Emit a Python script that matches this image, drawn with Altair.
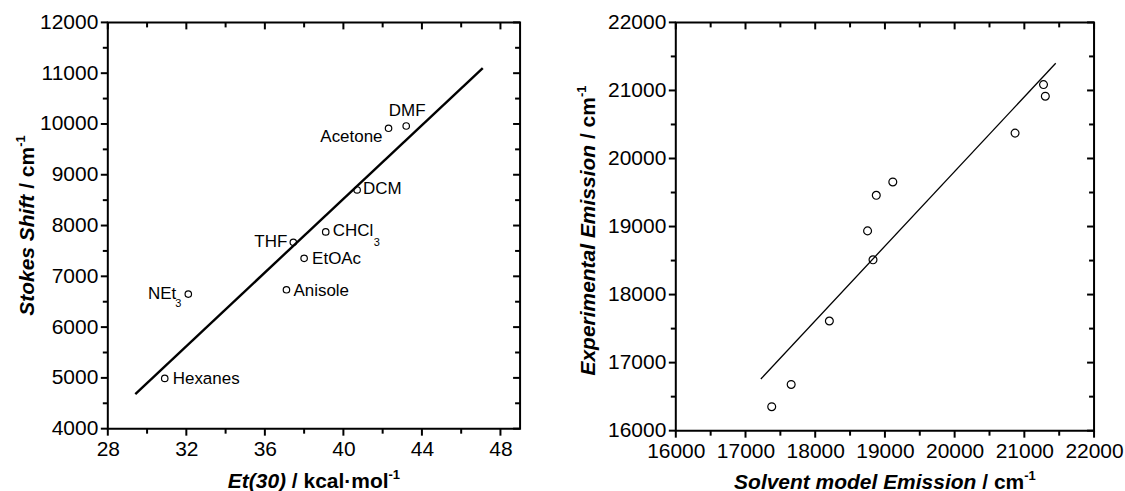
import altair as alt
import pandas as pd

FONT = "Liberation Sans"

# ---- Left panel: Stokes shift vs. Et(30) solvent polarity ----
solvent_names = ["Hexanes", "NEt3", "Anisole", "THF", "EtOAc", "CHCl3", "DCM", "Acetone", "DMF"]
label_main = ["Hexanes", "NEt", "Anisole", "THF", "EtOAc", "CHCl", "DCM", "Acetone", "DMF"]
label_sub = ["", "3", "", "", "", "3", "", "", ""]
et30_values = [30.9, 32.1, 37.1, 37.45, 38.0, 39.1, 40.7, 42.3, 43.2]
stokes_shift = [4990, 6650, 6735, 7670, 7355, 7875, 8700, 9915, 9960]
fit_et30 = [29.4, 47.1]
fit_stokes = [4680, 11100]
et30_major = [28, 32, 36, 40, 44, 48]
et30_minor = [30, 34, 38, 42, 46]
stokes_major = list(range(4000, 12001, 1000))
stokes_minor = list(range(4500, 12000, 1000))

# ---- Right panel: experimental vs. solvent-model emission ----
model_emission = [17376, 17655, 18203, 18751, 18829, 18876, 19113, 20867, 21275, 21301]
experimental_emission = [16352, 16679, 17612, 18936, 18511, 19459, 19655, 20373, 21086, 20915]
fit_model = [17220, 21450]
fit_experimental = [16760, 21400]
emission_major = list(range(16000, 22001, 1000))
emission_minor = list(range(16500, 22000, 1000))

# Axis titles as (text, italic?, superscript?) pieces
left_x_title = [("Et(30)", True, False), (" / kcal\u00b7mol", False, False), ("-1", False, True)]
left_y_title = [("Stokes Shift", True, False), (" / cm", False, False), ("-1", False, True)]
right_x_title = [("Solvent model Emission", True, False), (" / cm", False, False), ("-1", False, True)]
right_y_title = [("Experimental Emission", True, False), (" / cm", False, False), ("-1", False, True)]

# Arial/Liberation Sans Bold advance widths (per 1000 em)
BOLD_W = {" ": 278, "(": 333, ")": 333, "/": 278, "-": 333, "\u00b7": 333,
          "A": 722, "E": 667, "S": 667,
          "a": 556, "c": 556, "d": 611, "e": 556, "f": 333, "h": 611, "i": 278,
          "k": 556, "l": 278, "m": 889, "n": 611, "o": 611, "p": 611, "r": 389,
          "s": 556, "t": 333, "v": 556, "x": 556}
for _d in "0123456789":
    BOLD_W[_d] = 556

TITLE_SIZE = 21
SUP_SIZE = 13
MAJOR_LEN, MINOR_LEN = 7, 5
LEFT_W, LEFT_H = 413, 407
RIGHT_W, RIGHT_H = 419, 409


def text_width(s, size):
    return sum(BOLD_W.get(ch, 556) for ch in s) * size / 1000.0


def piece_layer(text, x, y, size, italic, angle=0):
    return alt.Chart(pd.DataFrame({"t": [text]})).mark_text(
        font=FONT, fontSize=size, fontWeight="bold",
        fontStyle="italic" if italic else "normal",
        angle=angle, align="left", baseline="alphabetic", color="black",
    ).encode(text="t:N", x=alt.value(x), y=alt.value(y))


def title_layers(pieces, along_center, across, vertical):
    """Lay out mixed-style title pieces one after another along a line."""
    sizes = [SUP_SIZE if sup else TITLE_SIZE for _, _, sup in pieces]
    total = sum(text_width(t, s) for (t, _, _), s in zip(pieces, sizes))
    pos = along_center - total / 2
    layers = []
    for (t, it, sup), s in zip(pieces, sizes):
        lead = len(t) - len(t.lstrip(" "))
        start = pos + text_width(" " * lead, s)
        raise_by = 9 if sup else 0
        if vertical:
            # reading upward: "along" runs from the bottom
            y = 2 * along_center - start
            layers.append(piece_layer(t.lstrip(" "), across - raise_by, y, s, it, angle=270))
        else:
            layers.append(piece_layer(t.lstrip(" "), start, across - raise_by, s, it))
        pos += text_width(t, s)
    return layers


def label_axis(values):
    return alt.Axis(
        values=values, format="d", ticks=False, domain=False, grid=False, title=None,
        labelFont=FONT, labelFontSize=21, labelColor="black",
        labelPadding=MAJOR_LEN + 3, labelFlush=False, labelOverlap=False,
    )


def frame_ticks(x_major, x_minor, y_major, y_minor, xenc, yenc, W, H):
    """Outward ticks on the bottom/left edges, inward ticks on the top/right edges."""
    layers = []
    for vals, length in ((x_major, MAJOR_LEN), (x_minor, MINOR_LEN)):
        df = pd.DataFrame({xenc.shorthand.split(":")[0]: vals})
        base = alt.Chart(df).mark_rule(color="black", strokeWidth=2)
        layers.append(base.encode(x=xenc, y=alt.value(H), y2=alt.value(H + length)))
        layers.append(base.encode(x=xenc, y=alt.value(0), y2=alt.value(length)))
    for vals, length in ((y_major, MAJOR_LEN), (y_minor, MINOR_LEN)):
        df = pd.DataFrame({yenc.shorthand.split(":")[0]: vals})
        base = alt.Chart(df).mark_rule(color="black", strokeWidth=2)
        layers.append(base.encode(y=yenc, x=alt.value(0), x2=alt.value(-length)))
        layers.append(base.encode(y=yenc, x=alt.value(W), x2=alt.value(W - length)))
    return layers


# ---------- left panel ----------
et_x = alt.X("et30:Q", scale=alt.Scale(domain=[28, 49], nice=False, zero=False),
             axis=label_axis(et30_major))
ss_y = alt.Y("stokes:Q", scale=alt.Scale(domain=[4000, 12000], nice=False, zero=False),
             axis=label_axis(stokes_major))

left_df = pd.DataFrame({"solvent": solvent_names, "main": label_main, "sub": label_sub,
                        "et30": et30_values, "stokes": stokes_shift})
left_fit = pd.DataFrame({"et30": fit_et30, "stokes": fit_stokes})

left_points = alt.Chart(left_df).mark_point(
    shape="circle", filled=False, color="black", size=42, strokeWidth=1.2, opacity=1
).encode(x=et_x, y=ss_y)
left_line = alt.Chart(left_fit).mark_line(color="black", strokeWidth=2.4).encode(x=et_x, y=ss_y)

# label anchor: (align, dx, dy) relative to each point
label_place = {
    "Hexanes": ("left", 8, 1), "NEt3": ("right", -12, 0), "Anisole": ("left", 7, 1),
    "THF": ("right", -6, 0), "EtOAc": ("left", 8, 1), "CHCl3": ("left", 7, -1),
    "DCM": ("left", 6, -1), "Acetone": ("right", -6, 9), "DMF": ("center", 1, -15),
}
sub_place = {"NEt3": (-13, 10), "CHCl3": (48, 11)}

label_layers = []
for name, (align, dx, dy) in label_place.items():
    label_layers.append(
        alt.Chart(left_df).transform_filter(alt.datum.solvent == name).mark_text(
            font=FONT, fontSize=17, color="black", align=align, baseline="middle", dx=dx, dy=dy
        ).encode(x=et_x, y=ss_y, text="main:N")
    )
for name, (dx, dy) in sub_place.items():
    label_layers.append(
        alt.Chart(left_df).transform_filter(alt.datum.solvent == name).mark_text(
            font=FONT, fontSize=11, color="black", align="left", baseline="middle", dx=dx, dy=dy
        ).encode(x=et_x, y=ss_y, text="sub:N")
    )

left = alt.layer(
    left_points, left_line, *label_layers,
    *frame_ticks(et30_major, et30_minor, stokes_major, stokes_minor, et_x, ss_y, LEFT_W, LEFT_H),
    *title_layers(left_x_title, LEFT_W / 2, LEFT_H + 59, vertical=False),
    *title_layers(left_y_title, LEFT_H / 2, -74, vertical=True),
).properties(width=LEFT_W, height=LEFT_H)

# ---------- right panel ----------
em_x = alt.X("model:Q", scale=alt.Scale(domain=[16000, 22000], nice=False, zero=False),
             axis=label_axis(emission_major))
em_y = alt.Y("experimental:Q", scale=alt.Scale(domain=[16000, 22000], nice=False, zero=False),
             axis=label_axis(emission_major))

right_df = pd.DataFrame({"model": model_emission, "experimental": experimental_emission})
right_fit = pd.DataFrame({"model": fit_model, "experimental": fit_experimental})

right_points = alt.Chart(right_df).mark_point(
    shape="circle", filled=False, color="black", size=62, strokeWidth=1.2, opacity=1
).encode(x=em_x, y=em_y)
right_line = alt.Chart(right_fit).mark_line(color="black", strokeWidth=1.3).encode(x=em_x, y=em_y)

right = alt.layer(
    right_points, right_line,
    *frame_ticks(emission_major, emission_minor, emission_major, emission_minor, em_x, em_y,
                 RIGHT_W, RIGHT_H),
    *title_layers(right_x_title, RIGHT_W / 2, RIGHT_H + 58, vertical=False),
    *title_layers(right_y_title, RIGHT_H / 2 + 4, -81, vertical=True),
).properties(width=RIGHT_W, height=RIGHT_H)

chart = alt.hconcat(left, right, spacing=156, bounds="flush").properties(
    padding={"left": 14, "top": 10, "right": 0, "bottom": 0},
    background="white",
).configure_view(stroke="black", strokeWidth=2)

chart.save("out.html", embed_options={"renderer": "svg", "actions": False})
